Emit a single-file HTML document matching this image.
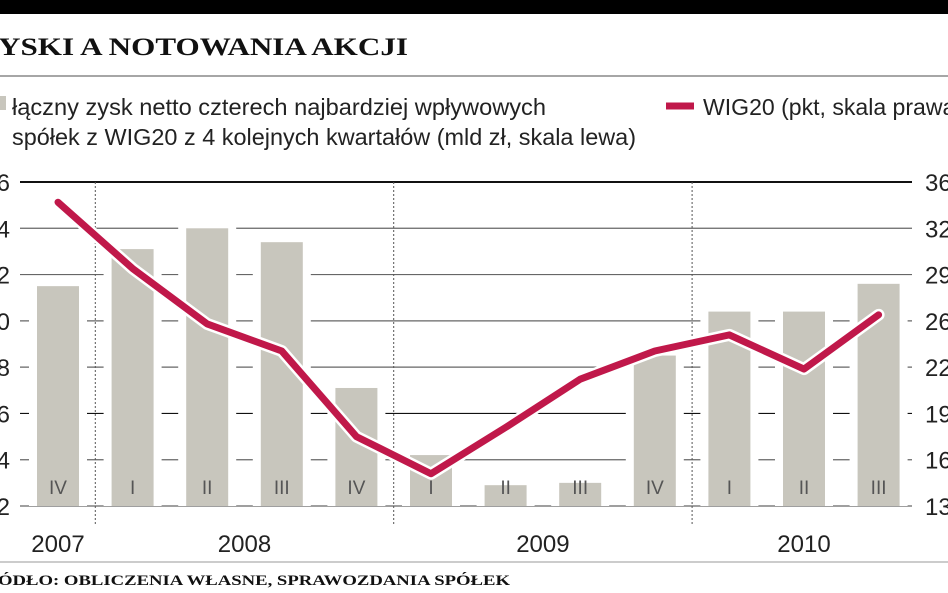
<!DOCTYPE html>
<html><head><meta charset="utf-8"><style>
body{margin:0;background:#fff;width:948px;height:593px;overflow:hidden}
svg{display:block}
text{font-family:"Liberation Sans",sans-serif}
</style></head><body>
<svg width="948" height="593" viewBox="0 0 948 593">
<rect x="0" y="0" width="948" height="14" fill="#000"/>
<text x="-2" y="55" style="font-family:'Liberation Serif',serif;font-weight:bold" font-size="25" textLength="410" lengthAdjust="spacingAndGlyphs" fill="#111">YSKI A NOTOWANIA AKCJI</text>
<line x1="0" y1="76" x2="948" y2="76" stroke="#888" stroke-width="1.5"/>
<rect x="-6" y="96" width="12" height="14" fill="#c8c6bd"/>
<text x="12" y="115" font-size="23" textLength="534" lengthAdjust="spacingAndGlyphs" fill="#222">łączny zysk netto czterech najbardziej wpływowych</text>
<text x="12" y="145" font-size="23" textLength="624" lengthAdjust="spacingAndGlyphs" fill="#222">spółek z WIG20 z 4 kolejnych kwartałów (mld zł, skala lewa)</text>
<line x1="666" y1="106" x2="694" y2="106" stroke="#c0184a" stroke-width="7"/>
<text x="703" y="115" font-size="23" textLength="260" lengthAdjust="spacingAndGlyphs" fill="#222">WIG20 (pkt, skala prawa)</text>
<g id="plot"></g>
<line x1="0" y1="562" x2="948" y2="562" stroke="#999" stroke-width="1"/>
<text x="-2" y="585" style="font-family:'Liberation Serif',serif;font-weight:bold" font-size="15" textLength="512" lengthAdjust="spacingAndGlyphs" fill="#111">ÓDŁO: OBLICZENIA WŁASNE, SPRAWOZDANIA SPÓŁEK</text>
</svg>
<script>
const quarters=["IV","I","II","III","IV","I","II","III","IV","I","II","III"];
const profits=[11.5,13.1,14.0,13.4,7.1,4.2,2.9,3.0,8.5,10.4,10.4,11.6];
const wig=[3466,2993,2598,2405,1795,1530,1860,2204,2405,2520,2276,2663];
const leftTicks=[2,4,6,8,10,12,14,16];
const rightTicks=[1300,1630,1960,2290,2620,2950,3280,3610];
const years=["2007","2008","2009","2010"];
const yearSpans=[[0,0],[1,4],[5,8],[9,11]];
const dividers=[0.5,4.5,8.5];
const NS="http://www.w3.org/2000/svg";
const g=document.getElementById('plot');
const X0=20,X1=912,Y0=506,Y1=182;
const bx=i=>58+i*74.6;
const yl=v=>Y0-(v-2)/14*(Y0-Y1);
const yr=v=>Y0-(v-1300)/2310*(Y0-Y1);
function mk(t,a){const e=document.createElementNS(NS,t);for(const k in a)e.setAttribute(k,a[k]);g.appendChild(e);return e;}
leftTicks.forEach((v,i)=>{
 const y=yl(v);
 const l=mk('line',{x1:X0,x2:X1,y1:y,y2:y,stroke:(i==7||i==2)?'#111':'#666','stroke-width':(i==7)?2:1.2});
 
 
 const t=mk('text',{x:10,y:y+9,'font-size':24,'text-anchor':'end',fill:'#222'});
 t.textContent=String(v);
 
 
});
rightTicks.forEach(v=>{
 const t=mk('text',{x:925,y:yr(v)+9,'font-size':24,fill:'#222'});
 t.textContent=String(v);
 
 
});
dividers.forEach(d=>{
 const x=bx(d);
 const l=mk('line',{x1:x,x2:x,y1:Y1,y2:525,stroke:'#555','stroke-dasharray':'2,2','stroke-width':1});
 
 
});
profits.forEach((v,i)=>{
 const x=bx(i)-21;
 const w=mk('rect',{x:x-8,y:yl(v)-2,width:58,height:Y0-yl(v)+2,fill:'#fff'});
 
 
});
profits.forEach((v,i)=>{
 const r=mk('rect',{x:bx(i)-21,y:yl(v),width:42,height:Y0-yl(v),fill:'#c8c6bd'});
 
 
 const t=mk('text',{x:bx(i),y:494,'font-size':19,'text-anchor':'middle',fill:'#555'});
 t.textContent=quarters[i];
 
 
});
const pts=wig.map((v,i)=>bx(i)+','+yr(v)).join(' ');
const halo=mk('polyline',{points:pts,fill:'none',stroke:'#fff','stroke-width':12,'stroke-linejoin':'round','stroke-linecap':'round'});


const ln=mk('polyline',{points:pts,fill:'none',stroke:'#c0184a','stroke-width':7,'stroke-linejoin':'round','stroke-linecap':'round'});


years.forEach((y,i)=>{
 const s=yearSpans[i];
 const t=mk('text',{x:(bx(s[0])+bx(s[1]))/2,y:552,'font-size':24,'text-anchor':'middle',fill:'#222'});
 t.textContent=y;
 
 
});
</script>
</body></html>
